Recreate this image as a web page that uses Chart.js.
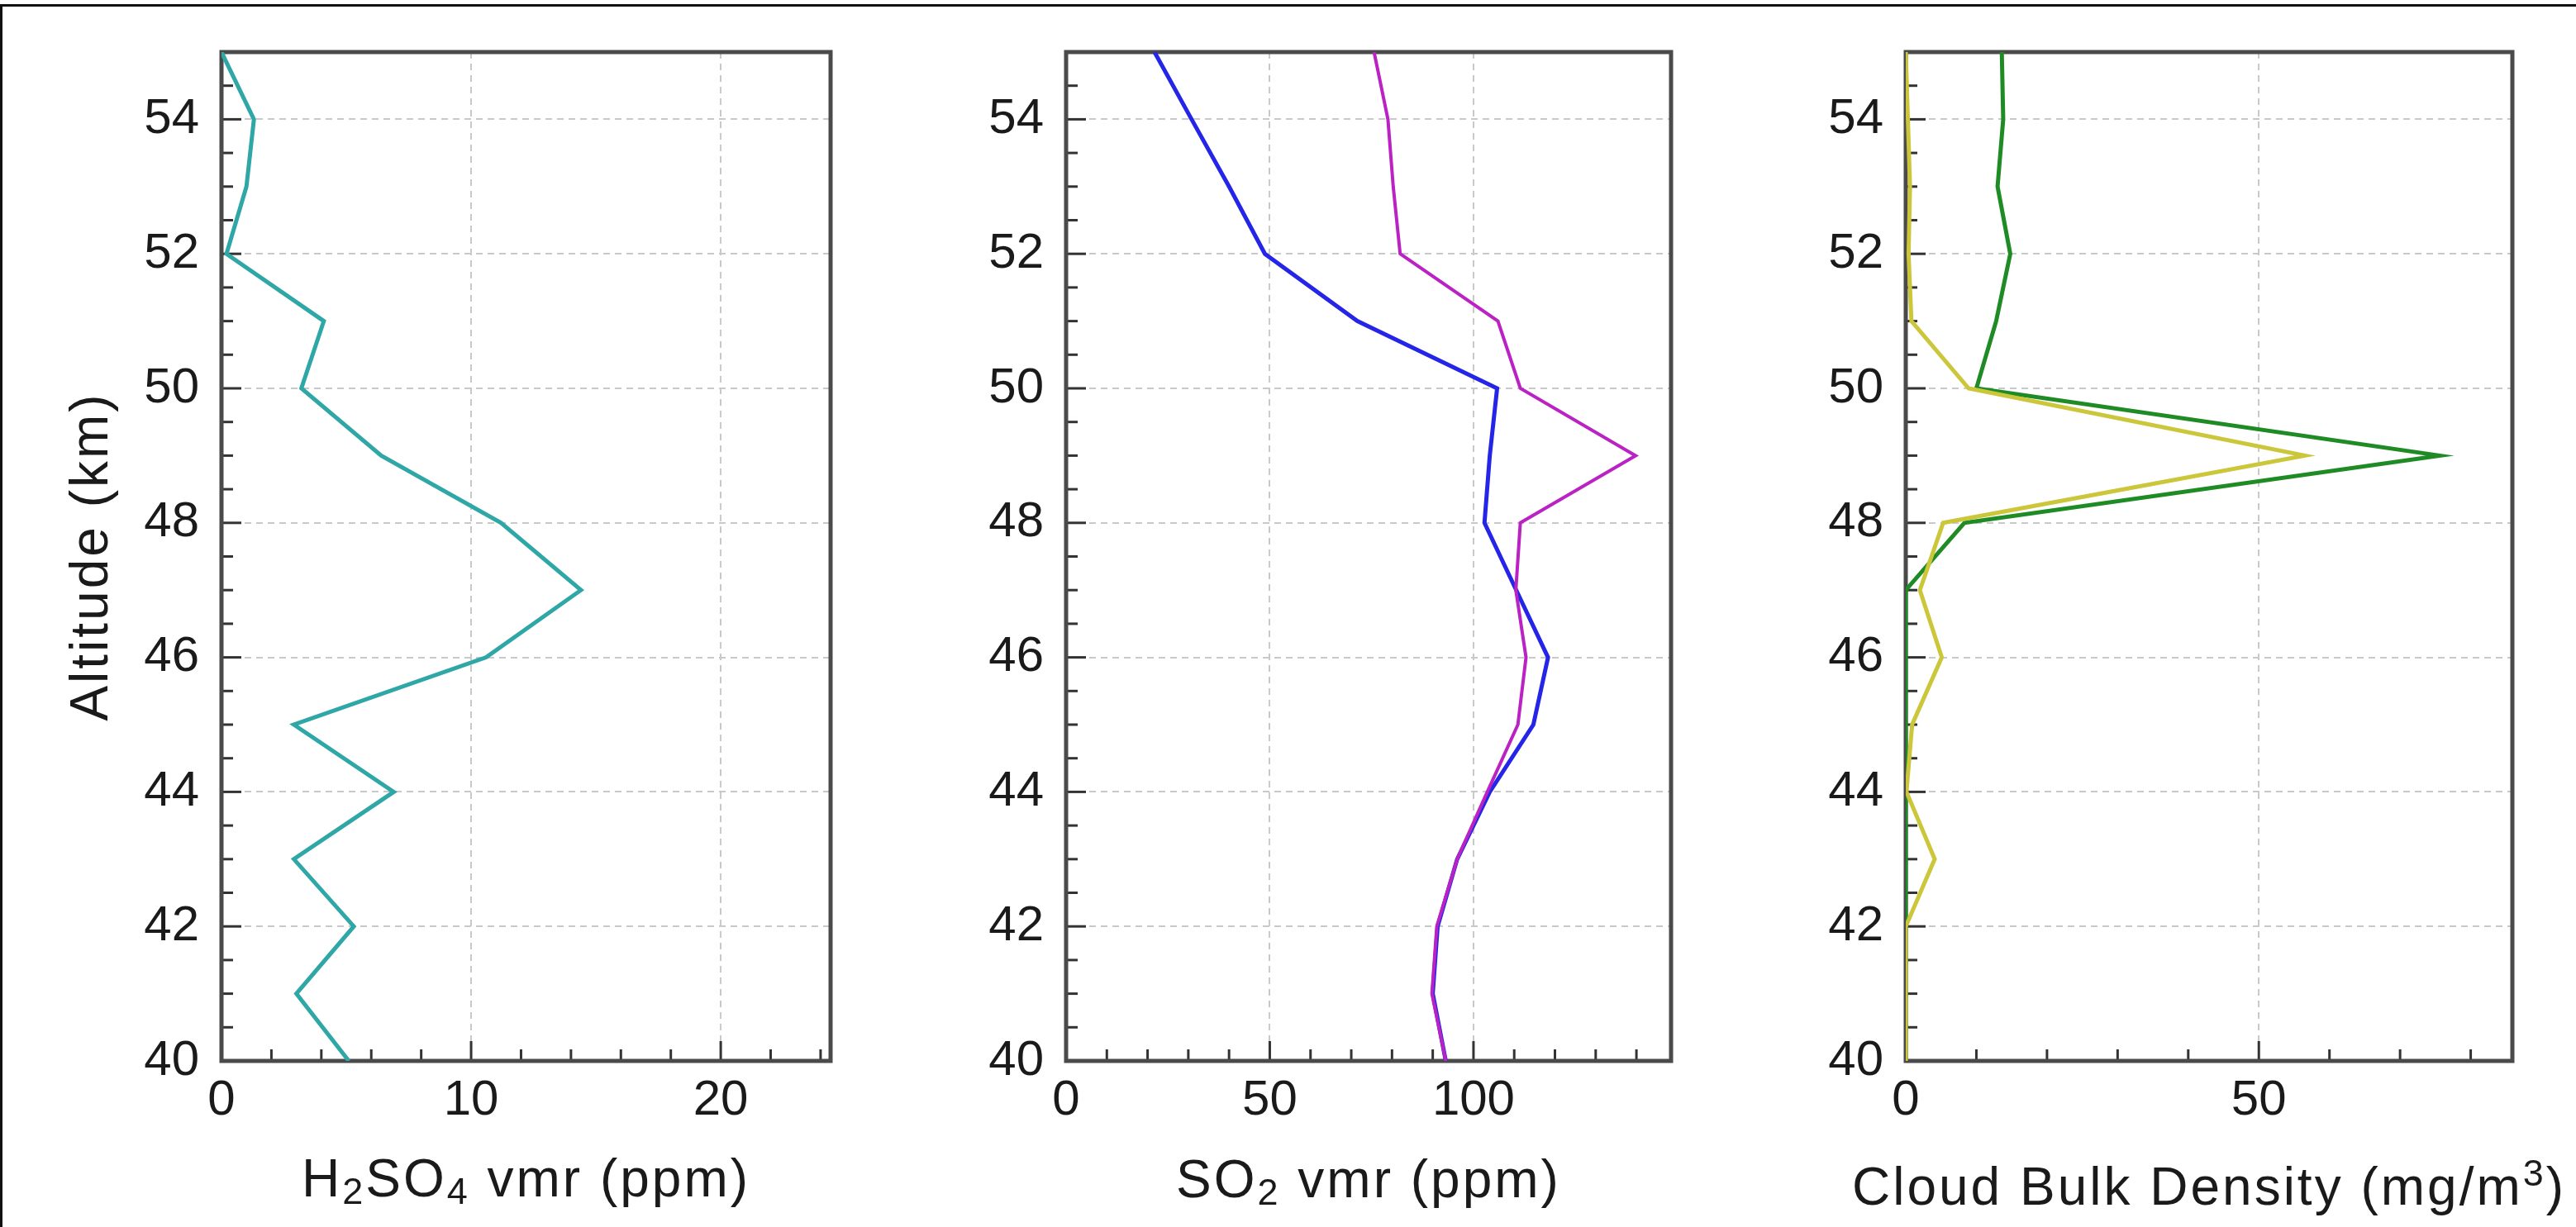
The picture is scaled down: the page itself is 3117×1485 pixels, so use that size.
<!DOCTYPE html>
<html>
<head>
<meta charset="utf-8">
<script src="https://cdn.jsdelivr.net/npm/chart.js@4.4.1/dist/chart.umd.min.js"></script>
<style>
  html, body { margin: 0; padding: 0; background: #fff; }
  body { width: 3117px; height: 1485px; position: relative; overflow: hidden; }
  #frame { position: absolute; left: 0; top: 5px; width: 3117px; height: 1480px;
           border-top: 3px solid #111; border-left: 3px solid #111; box-sizing: border-box; }
  canvas { position: absolute; top: 0; }
</style>
</head>
<body>
<div id="frame"></div>
<canvas id="c1" width="1100" height="1485" style="left:0px"></canvas>
<canvas id="c2" width="1000" height="1485" style="left:1100px"></canvas>
<canvas id="c3" width="1017" height="1485" style="left:2100px"></canvas>
<script>
// altitude grid shared by all three panels (km)
const altitude = [40, 41, 42, 43, 44, 45, 46, 47, 48, 49, 50, 51, 52, 53, 54, 55];

// H2SO4 vmr (ppm)
const h2so4 = [5.1, 3.0, 5.3, 2.9, 6.9, 2.9, 10.6, 14.4, 11.2, 6.4, 3.2, 4.1, 0.2, 1.0, 1.3, 0.0];

// SO2 vmr (ppm), two profiles
const so2Blue = [93.2, 90.0, 91.2, 96.0, 104.0, 114.7, 118.3, 110.5, 102.7, 104.0, 105.8, 71.5, 48.8, 40.0, 30.8, 21.7];
const so2Magenta = [93.2, 89.8, 91.0, 96.0, 103.4, 110.9, 112.9, 110.4, 111.5, 139.8, 111.5, 106.0, 82.0, 80.3, 79.0, 75.6];

// cloud bulk density (mg/m3), two profiles
const cloudGreen = [0, 0, 0, 0, 0, 0, 0, 0, 8.3, 75.6, 10.0, 12.8, 14.8, 13.0, 13.8, 13.6];
const cloudYellow = [0, 0, 0, 4.1, 0.1, 0.9, 5.1, 2.0, 5.3, 56.5, 8.9, 0.8, 0.4, 0.6, 0.3, 0.0];

// axis ranges, labelled ticks and minor tick step
const altRange = [40, 55];
const altTicks = [40, 42, 44, 46, 48, 50, 52, 54];
const altMinor = 0.5;
const h2so4Range = [0, 24.4];
const h2so4Ticks = [0, 10, 20];
const h2so4Minor = 2;
const so2Range = [0, 148.5];
const so2Ticks = [0, 50, 100];
const so2Minor = 10;
const cloudRange = [0, 85.9];
const cloudTicks = [0, 50];
const cloudMinor = 10;

const FAMILY = '"Liberation Sans", Arial, Helvetica, sans-serif';
const TEXT = '#1a1a1a';
const PLOT_TOP = 45, PLOT_BOTTOM = 1284, H = 1485;
const TITLE_SIZE = 64;

function points(values) {
    return values.map(function (v, i) { return {x: v, y: altitude[i]}; });
}

function fontFor(part, size) {
    let s = part.sub || part.sup ? Math.round(size * 0.7) : size;
    return s + 'px ' + FAMILY;
}

// draws a label made of normal / sub / sup pieces, centred on cx
function drawRich(ctx, parts, cx, baseline, size) {
    ctx.letterSpacing = '3px';
    let widths = parts.map(function (p) {
        ctx.font = fontFor(p, size);
        return ctx.measureText(p.t).width;
    });
    let total = widths.reduce(function (a, b) { return a + b; }, 0);
    let x = cx - total / 2;
    ctx.fillStyle = TEXT;
    ctx.textAlign = 'left';
    ctx.textBaseline = 'alphabetic';
    parts.forEach(function (p, i) {
        ctx.font = fontFor(p, size);
        let dy = p.sub ? size * 0.14 : (p.sup ? -size * 0.36 : 0);
        ctx.fillText(p.t, x, baseline + dy);
        x += widths[i];
    });
}

function isTick(v, list) {
    return list.some(function (t) { return Math.abs(t - v) < 1e-6; });
}

const axesBox = {
    id: 'axesBox',
    beforeDatasetsDraw(chart, args, opts) {
        const {ctx, chartArea: a} = chart;
        const x = chart.scales.x, y = chart.scales.y;
        ctx.save();
        ctx.strokeStyle = '#333';
        ctx.lineWidth = 3;
        for (let v = y.min; v <= y.max + 1e-9; v += altMinor) {
            let py = y.getPixelForValue(v);
            let len = isTick(v, altTicks) ? 24 : 14;
            ctx.beginPath();
            ctx.moveTo(a.left, py);
            ctx.lineTo(a.left + len, py);
            ctx.stroke();
        }
        for (let v = x.min; v <= x.max + 1e-9; v += opts.xMinor) {
            let px = x.getPixelForValue(v);
            let len = isTick(v, opts.xTicks) ? 24 : 14;
            ctx.beginPath();
            ctx.moveTo(px, a.bottom);
            ctx.lineTo(px, a.bottom - len);
            ctx.stroke();
        }
        ctx.strokeStyle = '#4a4a4a';
        ctx.lineWidth = 5;
        ctx.strokeRect(a.left, a.top, a.right - a.left, a.bottom - a.top);
        ctx.restore();
    },
    afterDraw(chart, args, opts) {
        const {ctx, chartArea: a} = chart;
        ctx.save();
        drawRich(ctx, opts.xTitle, (a.left + a.right) / 2, opts.xTitleBaseline, TITLE_SIZE);
        if (opts.yTitle) {
            ctx.translate(opts.yTitleX, (a.top + a.bottom) / 2);
            ctx.rotate(-Math.PI / 2);
            ctx.font = TITLE_SIZE + 'px ' + FAMILY;
            ctx.fillStyle = TEXT;
            ctx.textAlign = 'center';
            ctx.textBaseline = 'middle';
            ctx.fillText(opts.yTitle, 0, 0);
        }
        ctx.restore();
    }
};

function fixedTicks(list) {
    return function (scale) {
        scale.ticks = list.map(function (v) { return {value: v}; });
    };
}

function makePanel(canvasId, p) {
    let datasets = p.series.map(function (s) {
        return {
            data: points(s.values),
            borderColor: s.color,
            borderWidth: s.width,
            showLine: true,
            pointRadius: 0,
            tension: 0,
            fill: false,
        };
    });
    let gridOpts = {color: '#c9c9c9', lineWidth: 2, drawTicks: false};
    let tickFont = {family: FAMILY, size: 60};
    return new Chart(document.getElementById(canvasId), {
        type: 'scatter',
        data: {datasets: datasets},
        options: {
            responsive: false,
            animation: false,
            devicePixelRatio: 1,
            layout: {padding: {left: 0, top: PLOT_TOP, right: p.rightPad, bottom: 0}},
            plugins: {
                legend: {display: false},
                tooltip: {enabled: false},
                axesBox: {
                    xTicks: p.xTicks,
                    xMinor: p.xMinor,
                    xTitle: p.xTitle,
                    xTitleBaseline: p.xTitleBaseline,
                    yTitle: p.yTitle,
                    yTitleX: p.yTitleX,
                },
            },
            scales: {
                x: {
                    type: 'linear',
                    position: 'bottom',
                    min: p.xRange[0],
                    max: p.xRange[1],
                    grid: gridOpts,
                    border: {display: false, dash: [8, 6]},
                    afterBuildTicks: fixedTicks(p.xTicks),
                    ticks: {
                        autoSkip: false,
                        maxRotation: 0,
                        padding: 12,
                        color: TEXT,
                        font: tickFont,
                    },
                    afterFit: function (scale) { scale.height = H - PLOT_BOTTOM; },
                },
                y: {
                    type: 'linear',
                    position: 'left',
                    min: altRange[0],
                    max: altRange[1],
                    grid: gridOpts,
                    border: {display: false, dash: [8, 6]},
                    afterBuildTicks: fixedTicks(altTicks),
                    ticks: {
                        autoSkip: false,
                        padding: 27,
                        color: TEXT,
                        font: tickFont,
                    },
                    afterFit: function (scale) { scale.width = p.leftAxis; },
                },
            },
        },
        plugins: [axesBox],
    });
}

makePanel('c1', {
    leftAxis: 268, rightPad: 1100 - 1005,
    xRange: h2so4Range, xTicks: h2so4Ticks, xMinor: h2so4Minor,
    series: [{values: h2so4, color: '#2fa7a7', width: 5}],
    xTitle: [{t: 'H'}, {t: '2', sub: true}, {t: 'SO'}, {t: '4', sub: true}, {t: ' vmr (ppm)'}],
    xTitleBaseline: 1448,
    yTitle: 'Altitude (km)', yTitleX: 112,
});

makePanel('c2', {
    leftAxis: 1290 - 1100, rightPad: 2100 - 2022,
    xRange: so2Range, xTicks: so2Ticks, xMinor: so2Minor,
    series: [
        {values: so2Magenta, color: '#bb22c4', width: 4},
        {values: so2Blue, color: '#2525e8', width: 5},
    ],
    xTitle: [{t: 'SO'}, {t: '2', sub: true}, {t: ' vmr (ppm)'}],
    xTitleBaseline: 1449,
});

makePanel('c3', {
    leftAxis: 2306 - 2100, rightPad: 3117 - 3040,
    xRange: cloudRange, xTicks: cloudTicks, xMinor: cloudMinor,
    series: [
        {values: cloudYellow, color: '#cbc63a', width: 5},
        {values: cloudGreen, color: '#1f8b24', width: 5},
    ],
    xTitle: [{t: 'Cloud Bulk Density (mg/m'}, {t: '3', sup: true}, {t: ')'}],
    xTitleBaseline: 1458,
});
</script>
</body>
</html>
